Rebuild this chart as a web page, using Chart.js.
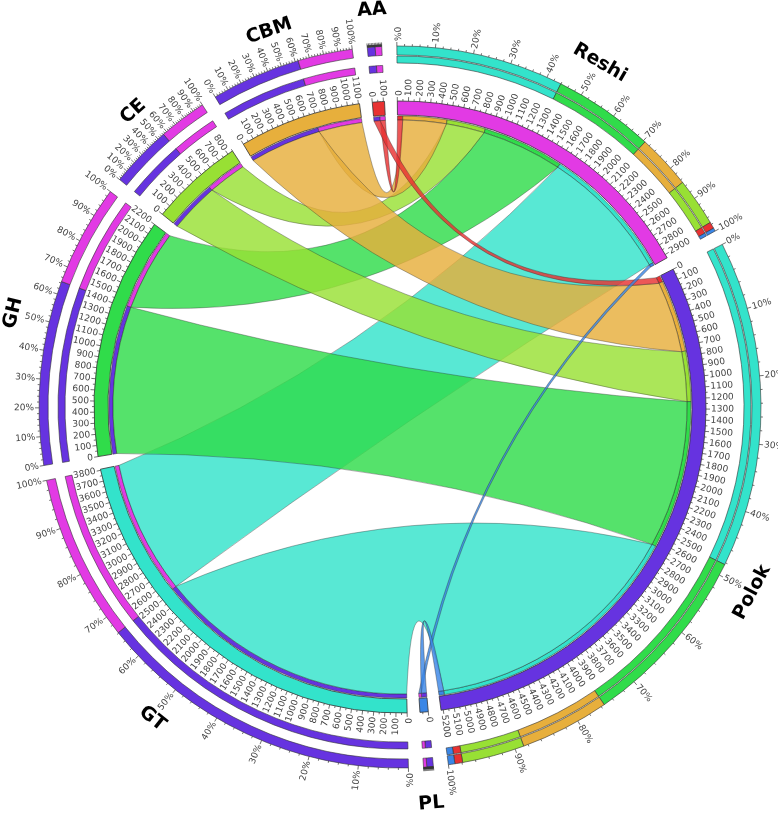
<!DOCTYPE html>
<html>
<head>
<meta charset="utf-8">
<script src="https://cdn.jsdelivr.net/npm/chart.js@4.4.0/dist/chart.umd.min.js"></script>
<style>
  html, body { margin: 0; padding: 0; background: #fff; }
</style>
</head>
<body>
<canvas id="chord" width="778" height="815"></canvas>
<script>
// segments around the circle, clockwise from the top
const segments = ['Reshi', 'Polok', 'PL', 'GT', 'GH', 'CE', 'CBM', 'AA'];
const targets = ['Reshi', 'Polok'];
// order in which ribbons land on each target
const sources = ['AA', 'CBM', 'CE', 'GH', 'GT', 'PL'];
const toReshi = [50, 420, 370, 780, 1290, 25];
const toPolok = [60, 690, 480, 1420, 2520, 50];
const pctTickLabels = ['0%', '10%', '20%', '30%', '40%', '50%', '60%', '70%', '80%', '90%', '100%'];

const colors = {
  Reshi: '#E23AE4',
  Polok: '#6633E0',
  PL: '#3A86E6',
  GT: '#33E3CB',
  GH: '#30DC4A',
  CE: '#98E034',
  CBM: '#E7AF3C',
  AA: '#E83232'
};
const ribbonAlpha = 0.82;
const gapUnits = 115;
const CLEAR = 'rgba(0,0,0,0)';

const flow = (s, t) => {
  const i = sources.indexOf(s);
  return t === 'Reshi' ? toReshi[i] : toPolok[i];
};
const sum = arr => arr.reduce((a, b) => a + b, 0);

const segSizes = {};
sources.forEach((s, i) => segSizes[s] = toReshi[i] + toPolok[i]);
segSizes.Reshi = sum(toReshi);
segSizes.Polok = sum(toPolok);

// build ring data from the flows
const ideoData = [], ideoColors = [], ideoBorder = [];
const stripData = [], stripColors = [], stripBorder = [], stripKey = [];
const pctData = [], pctColors = [], pctBorder = [];
const tgtColors = [], tgtBorder = [], srcColors = [], srcBorder = [];
segments.forEach(seg => {
  const isTarget = targets.includes(seg);
  ideoData.push(segSizes[seg]); ideoColors.push(colors[seg]); ideoBorder.push(0.8);
  const parts = isTarget
    ? sources.map(s => ({ other: s, v: flow(s, seg) }))
    : ['Polok', 'Reshi'].map(t => ({ other: t, v: flow(seg, t) }));
  parts.forEach(p => {
    stripData.push(p.v); stripColors.push(colors[p.other]); stripBorder.push(0.5);
    stripKey.push(seg + '>' + p.other);
  });
  parts.slice().sort((a, b) => b.v - a.v).forEach(p => {
    pctData.push(p.v); pctColors.push(colors[p.other]); pctBorder.push(0.6);
    tgtColors.push(isTarget ? colors[p.other] : CLEAR); tgtBorder.push(isTarget ? 0.6 : 0);
    srcColors.push(isTarget ? CLEAR : colors[p.other]); srcBorder.push(isTarget ? 0 : 0.6);
  });
  ideoData.push(gapUnits); ideoColors.push(CLEAR); ideoBorder.push(0);
  stripData.push(gapUnits); stripColors.push(CLEAR); stripBorder.push(0); stripKey.push('gap');
  pctData.push(gapUnits); pctColors.push(CLEAR); pctBorder.push(0);
  tgtColors.push(CLEAR); tgtBorder.push(0); srcColors.push(CLEAR); srcBorder.push(0);
});

const ring = (data, bg, bw, weight) => ({
  data, backgroundColor: bg, borderColor: '#333', borderWidth: bw, weight
});
const spacer = weight => ({ data: [1], backgroundColor: [CLEAR], borderWidth: 0, weight });

function rgba(hex, a) {
  const n = parseInt(hex.slice(1), 16);
  return `rgba(${n >> 16},${(n >> 8) & 255},${n & 255},${a})`;
}

function radialText(ctx, cx, cy, r, ang, text) {
  ctx.save();
  ctx.translate(cx + r * Math.cos(ang), cy + r * Math.sin(ang));
  if (Math.cos(ang) >= -1e-6) {
    ctx.rotate(ang);
    ctx.textAlign = 'left';
  } else {
    ctx.rotate(ang + Math.PI);
    ctx.textAlign = 'right';
  }
  ctx.textBaseline = 'middle';
  ctx.fillText(text, 0, 0);
  ctx.restore();
}

function tick(ctx, cx, cy, r0, r1, ang) {
  ctx.moveTo(cx + r0 * Math.cos(ang), cy + r0 * Math.sin(ang));
  ctx.lineTo(cx + r1 * Math.cos(ang), cy + r1 * Math.sin(ang));
}

const IDEO = 6, STRIP = 8;

const ribbonPlugin = {
  id: 'ribbons',
  afterDatasetsDraw(chart) {
    const ctx = chart.ctx;
    const meta = chart.getDatasetMeta(STRIP);
    const arcFor = key => meta.data[stripKey.indexOf(key)];
    const bend = 0.5;
    const order = ['GT', 'GH', 'CE', 'CBM', 'AA', 'PL'];
    ctx.save();
    order.forEach(s => targets.forEach(t => {
      const a = arcFor(s + '>' + t), b = arcFor(t + '>' + s);
      const cx = a.x, cy = a.y, r = a.innerRadius;
      const pt = ang => [cx + r * Math.cos(ang), cy + r * Math.sin(ang)];
      const ctrl = (p, q) => [cx + bend * ((p[0] + q[0]) / 2 - cx), cy + bend * ((p[1] + q[1]) / 2 - cy)];
      const A0 = pt(a.startAngle), A1 = pt(a.endAngle);
      const B0 = pt(b.startAngle), B1 = pt(b.endAngle);
      ctx.beginPath();
      ctx.moveTo(A0[0], A0[1]);
      ctx.arc(cx, cy, r, a.startAngle, a.endAngle);
      let c = ctrl(A1, B0);
      ctx.quadraticCurveTo(c[0], c[1], B0[0], B0[1]);
      ctx.arc(cx, cy, r, b.startAngle, b.endAngle);
      c = ctrl(B1, A0);
      ctx.quadraticCurveTo(c[0], c[1], A0[0], A0[1]);
      ctx.closePath();
      ctx.fillStyle = rgba(colors[s], ribbonAlpha);
      ctx.fill();
      ctx.strokeStyle = 'rgba(40,40,40,0.6)';
      ctx.lineWidth = 0.6;
      ctx.stroke();
    }));
    ctx.restore();
  }
};

const tickPlugin = {
  id: 'ticks',
  afterDatasetsDraw(chart) {
    const ctx = chart.ctx;
    const ideo = chart.getDatasetMeta(IDEO);
    const outer = chart.getDatasetMeta(0);
    ctx.save();
    ctx.fillStyle = '#444';
    ctx.strokeStyle = '#333';
    ctx.lineWidth = 0.7;
    segments.forEach((seg, i) => {
      const arc = ideo.data[2 * i];
      const cx = arc.x, cy = arc.y;
      const span = arc.endAngle - arc.startAngle;
      const k = span / segSizes[seg];
      const R = arc.outerRadius;
      // unit ticks outside the ideogram
      ctx.beginPath();
      for (let u = 0; u <= segSizes[seg]; u += 50) {
        const ang = arc.startAngle + u * k;
        tick(ctx, cx, cy, R, R + (u % 100 === 0 ? 4 : 2), ang);
      }
      ctx.stroke();
      ctx.font = '9px "DejaVu Sans"';
      for (let u = 0; u <= segSizes[seg]; u += 100) {
        radialText(ctx, cx, cy, R + 5, arc.startAngle + u * k, String(u));
      }
      // percentage ticks outside the outer ring
      const Ro = outer.data[0].outerRadius;
      ctx.beginPath();
      for (let p = 0; p <= 100; p += 2) {
        const ang = arc.startAngle + span * p / 100;
        tick(ctx, cx, cy, Ro, Ro + (p % 10 === 0 ? 4 : 2), ang);
      }
      ctx.stroke();
      if (segSizes[seg] > 300) {
        pctTickLabels.forEach((lab, j) => {
          radialText(ctx, cx, cy, Ro + 5, arc.startAngle + span * j / 10, lab);
        });
      }
      // segment name
      const mid = (arc.startAngle + arc.endAngle) / 2;
      const rn = 398;
      ctx.save();
      ctx.translate(cx + rn * Math.cos(mid), cy + rn * Math.sin(mid));
      ctx.rotate(Math.sin(mid) < 0 ? mid + Math.PI / 2 : mid - Math.PI / 2);
      ctx.fillStyle = '#000';
      ctx.font = 'bold 19px "DejaVu Sans"';
      ctx.textAlign = 'center';
      ctx.textBaseline = 'middle';
      ctx.fillText(seg, 0, 0);
      ctx.restore();
    });
    ctx.restore();
  }
};

const outerR = 361, innerR = 287;
new Chart(document.getElementById('chord'), {
  type: 'doughnut',
  data: {
    labels: segments,
    datasets: [
      ring(pctData, pctColors, pctBorder, 9),
      spacer(1),
      ring(pctData, tgtColors, tgtBorder, 7),
      spacer(2),
      ring(pctData, srcColors, srcBorder, 7),
      spacer(29),
      ring(ideoData, ideoColors, ideoBorder, 14),
      spacer(1),
      ring(stripData, stripColors, stripBorder, 4)
    ]
  },
  options: {
    responsive: false,
    animation: false,
    events: [],
    rotation: -0.5,
    radius: outerR,
    cutout: (innerR / outerR * 100) + '%',
    layout: { padding: { left: 22, right: 0, top: 0, bottom: 1 } },
    plugins: { legend: { display: false }, tooltip: { enabled: false } }
  },
  plugins: [ribbonPlugin, tickPlugin]
});
</script>
</body>
</html>
